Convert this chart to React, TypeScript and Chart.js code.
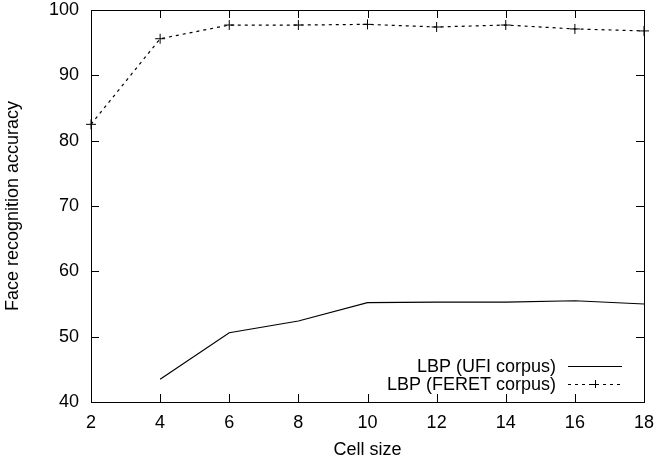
import React, { useEffect, useRef } from "react";
import { Chart, registerables } from "chart.js";

Chart.register(...registerables);

const cellSizes = [2, 4, 6, 8, 10, 12, 14, 16, 18];
const ufiCells = [4, 6, 8, 10, 12, 14, 16, 18];
const ufiAccuracy = [43.5, 50.6, 52.4, 55.2, 55.3, 55.3, 55.5, 55.0];
const feretAccuracy = [82.5, 95.6, 97.7, 97.7, 97.8, 97.4, 97.7, 97.1, 96.8];
const xTicks = [2, 4, 6, 8, 10, 12, 14, 16, 18];
const yTicks = [40, 50, 60, 70, 80, 90, 100];
const legendLabels = ["LBP (UFI corpus)", "LBP (FERET corpus)"];

const FONT = "'Liberation Sans', Arial, Helvetica, sans-serif";

const frameTicks = {
  id: "frameTicks",
  afterDatasetsDraw(chart: any) {
    const { ctx, chartArea: a, scales } = chart;
    const x = scales.x;
    const y = scales.y;
    ctx.save();
    ctx.strokeStyle = "#000";
    ctx.lineWidth = 1;
    ctx.setLineDash([]);
    ctx.strokeRect(Math.round(a.left) + 0.5, Math.round(a.top) + 0.5, Math.round(a.right - a.left), Math.round(a.bottom - a.top));
    const L = 8;
    ctx.beginPath();
    xTicks.forEach((v) => {
      if (v === xTicks[0] || v === xTicks[xTicks.length - 1]) return;
      const px = Math.round(x.getPixelForValue(v)) + 0.5;
      ctx.moveTo(px, a.bottom);
      ctx.lineTo(px, a.bottom - L);
      ctx.moveTo(px, a.top);
      ctx.lineTo(px, a.top + L);
    });
    yTicks.forEach((v) => {
      if (v === yTicks[0] || v === yTicks[yTicks.length - 1]) return;
      const py = Math.round(y.getPixelForValue(v)) + 0.5;
      ctx.moveTo(a.left, py);
      ctx.lineTo(a.left + L, py);
      ctx.moveTo(a.right, py);
      ctx.lineTo(a.right - L, py);
    });
    ctx.stroke();

    // legend
    ctx.font = `18px ${FONT}`;
    ctx.fillStyle = "#000";
    ctx.textAlign = "right";
    ctx.textBaseline = "middle";
    const textRight = a.right - 88;
    const sx0 = a.right - 76;
    const sx1 = a.right - 22;
    const rows = [a.bottom - 36, a.bottom - 18];
    legendLabels.forEach((lab, i) => {
      ctx.fillText(lab, textRight, rows[i] + 1);
      ctx.beginPath();
      ctx.setLineDash(i === 0 ? [] : [3, 4]);
      ctx.moveTo(sx0, rows[i] + 0.5);
      ctx.lineTo(sx1, rows[i] + 0.5);
      ctx.stroke();
      if (i === 1) {
        ctx.setLineDash([]);
        const cx = (sx0 + sx1) / 2;
        ctx.beginPath();
        ctx.moveTo(cx - 4, rows[i] + 0.5);
        ctx.lineTo(cx + 4, rows[i] + 0.5);
        ctx.moveTo(cx + 0.5, rows[i] - 4);
        ctx.lineTo(cx + 0.5, rows[i] + 4);
        ctx.stroke();
      }
    });
    ctx.restore();
  },
};

const zeroPad = (s: any) => {
  s.paddingTop = 0;
  s.paddingBottom = 0;
  s.paddingLeft = 0;
  s.paddingRight = 0;
};

export default function App() {
  const ref = useRef<HTMLCanvasElement>(null);
  useEffect(() => {
    document.body.style.margin = "0";
    const chart = new Chart(ref.current!, {
      type: "line",
      data: {
        datasets: [
          {
            label: legendLabels[0],
            data: ufiCells.map((c, i) => ({ x: c, y: ufiAccuracy[i] })),
            borderColor: "#000",
            borderWidth: 1.2,
            pointRadius: 0,
            tension: 0,
            clip: false as any,
          },
          {
            label: legendLabels[1],
            data: cellSizes.map((c, i) => ({ x: c, y: feretAccuracy[i] })),
            borderColor: "#000",
            borderWidth: 1.2,
            borderDash: [3, 4],
            pointStyle: "cross",
            pointRadius: 5,
            pointBorderColor: "#000",
            pointBorderWidth: 1,
            tension: 0,
            clip: false as any,
          },
        ],
      },
      options: {
        animation: false,
        responsive: false,
        devicePixelRatio: 1,
        layout: { padding: { left: 2, right: 14, top: 10, bottom: 0 } },
        plugins: { legend: { display: false }, tooltip: { enabled: false } },
        scales: {
          x: {
            type: "linear",
            min: 2,
            max: 18,
            afterBuildTicks: (s: any) => {
              s.ticks = xTicks.map((v) => ({ value: v }));
            },
            afterFit: (s: any) => {
              s.height = 59;
              zeroPad(s);
            },
            grid: { display: false, drawTicks: false },
            border: { display: false },
            ticks: { color: "#000", font: { family: FONT, size: 18 }, padding: 10, maxRotation: 0 },
            title: {
              display: true,
              text: "Cell size",
              color: "#000",
              font: { family: FONT, size: 18 },
              padding: { top: 2, bottom: 0 },
            },
          },
          y: {
            type: "linear",
            min: 40,
            max: 100,
            afterBuildTicks: (s: any) => {
              s.ticks = yTicks.map((v) => ({ value: v }));
            },
            afterFit: (s: any) => {
              s.width = 89;
              zeroPad(s);
            },
            grid: { display: false, drawTicks: false },
            border: { display: false },
            ticks: { color: "#000", font: { family: FONT, size: 18 }, padding: 12 },
            title: {
              display: true,
              text: "Face recognition accuracy",
              color: "#000",
              font: { family: FONT, size: 18 },
              padding: { top: 0, bottom: 0 },
            },
          },
        },
      },
      plugins: [frameTicks],
    });
    return () => chart.destroy();
  }, []);
  return (
    <div style={{ width: 658, height: 461 }}>
      <canvas ref={ref} width={658} height={461} style={{ display: "block" }} />
    </div>
  );
}
